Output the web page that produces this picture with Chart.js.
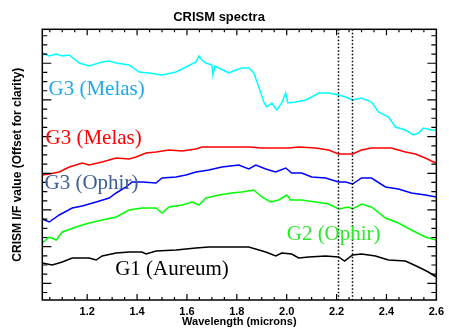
<!DOCTYPE html>
<html>
<head>
<meta charset="utf-8">
<script src="https://cdn.jsdelivr.net/npm/chart.js@4/dist/chart.umd.min.js"></script>
<style>
  html, body { margin: 0; padding: 0; background: #fff; }
</style>
</head>
<body>
<canvas id="myChart" width="449" height="331"></canvas>
<script>
'use strict';
// wavelength (microns) and offset I/F values
const cyanWave = [1.02, 1.048, 1.076, 1.1, 1.128, 1.168, 1.208, 1.26, 1.288, 1.316, 1.368, 1.408, 1.448, 1.5, 1.556, 1.596, 1.636, 1.648, 1.66, 1.676, 1.7, 1.704, 1.712, 1.728, 1.768, 1.796, 1.82, 1.848, 1.868, 1.888, 1.908, 1.92, 1.94, 1.96, 1.98, 1.996, 2.004, 2.036, 2.076, 2.1, 2.128, 2.168, 2.208, 2.236, 2.264, 2.3, 2.34, 2.368, 2.408, 2.436, 2.476, 2.508, 2.528, 2.548, 2.58, 2.6];
const cyanVals = [2.47, 2.44, 2.46, 2.44, 2.45, 2.37, 2.34, 2.38, 2.39, 2.37, 2.35, 2.28, 2.27, 2.25, 2.28, 2.33, 2.38, 2.44, 2.40, 2.37, 2.35, 2.25, 2.34, 2.32, 2.27, 2.30, 2.32, 2.32, 2.27, 2.13, 1.98, 1.93, 1.97, 1.90, 1.97, 2.07, 1.97, 1.98, 2.00, 2.03, 2.07, 2.07, 2.05, 2.03, 2.00, 2.02, 1.98, 1.88, 1.83, 1.73, 1.70, 1.65, 1.67, 1.72, 1.70, 1.70];

const redWave = [1.02, 1.048, 1.088, 1.128, 1.18, 1.208, 1.26, 1.316, 1.368, 1.396, 1.436, 1.476, 1.528, 1.58, 1.636, 1.66, 1.716, 1.768, 1.848, 1.9, 1.968, 2.008, 2.048, 2.116, 2.168, 2.208, 2.264, 2.3, 2.34, 2.42, 2.476, 2.516, 2.556, 2.58, 2.6];
const redVals = [1.25, 1.26, 1.28, 1.33, 1.37, 1.35, 1.38, 1.42, 1.41, 1.43, 1.47, 1.48, 1.50, 1.49, 1.51, 1.53, 1.53, 1.53, 1.53, 1.52, 1.52, 1.52, 1.53, 1.52, 1.50, 1.46, 1.46, 1.50, 1.52, 1.52, 1.48, 1.46, 1.42, 1.39, 1.37];

const blueWave = [1.02, 1.048, 1.088, 1.14, 1.18, 1.236, 1.288, 1.316, 1.356, 1.38, 1.42, 1.476, 1.5, 1.556, 1.596, 1.636, 1.688, 1.74, 1.808, 1.848, 1.876, 1.916, 1.956, 1.996, 2.02, 2.06, 2.1, 2.156, 2.208, 2.236, 2.264, 2.3, 2.34, 2.396, 2.448, 2.5, 2.556, 2.6];
const blueVals = [0.81, 0.78, 0.85, 0.92, 0.94, 0.98, 1.02, 1.07, 1.13, 1.18, 1.18, 1.17, 1.22, 1.23, 1.25, 1.28, 1.30, 1.33, 1.35, 1.31, 1.35, 1.31, 1.28, 1.32, 1.27, 1.27, 1.23, 1.22, 1.18, 1.18, 1.16, 1.22, 1.22, 1.13, 1.11, 1.07, 1.05, 1.03];

const greenWave = [1.02, 1.048, 1.076, 1.1, 1.156, 1.208, 1.26, 1.316, 1.368, 1.42, 1.476, 1.5, 1.528, 1.58, 1.62, 1.648, 1.676, 1.728, 1.78, 1.82, 1.868, 1.9, 1.936, 1.968, 2.0, 2.016, 2.06, 2.116, 2.168, 2.208, 2.248, 2.264, 2.3, 2.34, 2.396, 2.448, 2.5, 2.556, 2.6];
const greenVals = [0.57, 0.63, 0.60, 0.68, 0.73, 0.77, 0.80, 0.83, 0.90, 0.92, 0.92, 0.87, 0.93, 0.95, 0.98, 0.95, 1.02, 1.05, 1.07, 1.08, 1.10, 1.03, 0.98, 1.00, 1.05, 1.00, 1.00, 0.98, 0.96, 0.91, 0.93, 0.91, 0.96, 0.93, 0.82, 0.77, 0.70, 0.63, 0.60];

const blackWave = [1.02, 1.06, 1.1, 1.14, 1.208, 1.236, 1.26, 1.316, 1.368, 1.42, 1.436, 1.476, 1.556, 1.636, 1.688, 1.768, 1.848, 1.916, 1.956, 1.98, 2.02, 2.048, 2.088, 2.156, 2.208, 2.232, 2.264, 2.3, 2.356, 2.408, 2.476, 2.528, 2.568, 2.6];
const blackVals = [0.37, 0.35, 0.38, 0.42, 0.42, 0.40, 0.44, 0.47, 0.48, 0.48, 0.46, 0.49, 0.50, 0.52, 0.53, 0.53, 0.53, 0.48, 0.44, 0.47, 0.46, 0.42, 0.43, 0.44, 0.43, 0.39, 0.45, 0.46, 0.44, 0.40, 0.39, 0.33, 0.28, 0.23];

const xLabels = [1.2, 1.4, 1.6, 1.8, 2.0, 2.2, 2.4, 2.6];
const bandLines = [2.205, 2.26];

const labelTexts = ['G3 (Melas)', 'G3 (Melas)', 'G3 (Ophir)', 'G2 (Ophir)', 'G1 (Aureum)'];
const labelColors = ['#1ea8ee', '#ff0000', '#3a5f98', '#2ee82e', '#000000'];
const labelWave = [1.045, 1.033, 1.029, 2.0, 1.312];
const labelVals = [2.05, 1.56, 1.107, 0.60, 0.25];

function pts(xs, ys) {
  return xs.map((x, i) => ({ x: x, y: ys[i] }));
}

function line(label, color, xs, ys) {
  return {
    label: label,
    data: pts(xs, ys),
    borderColor: color,
    borderWidth: 1.5,
    pointRadius: 0,
    tension: 0,
    fill: false
  };
}

// frame, inward ticks, dotted band lines and labels
const framePlugin = {
  id: 'frame',
  afterDatasetsDraw(chart) {
    const ctx = chart.ctx;
    const a = chart.chartArea;
    const xs = chart.scales.x;
    const ys = chart.scales.y;
    ctx.save();

    ctx.strokeStyle = '#000';
    ctx.lineWidth = 1.5;
    ctx.setLineDash([1.5, 2]);
    bandLines.forEach(w => {
      const px = Math.round(xs.getPixelForValue(w)) + 0.5;
      ctx.beginPath();
      ctx.moveTo(px, a.top);
      ctx.lineTo(px, a.bottom);
      ctx.stroke();
    });
    ctx.setLineDash([]);

    ctx.lineWidth = 1.5;
    ctx.strokeRect(a.left, a.top, a.right - a.left, a.bottom - a.top);

    ctx.lineWidth = 1.2;
    for (let k = 1; k <= 31; k++) {
      const w = 1.0 + k * 0.05;
      if (w > 2.58) break;
      const px = xs.getPixelForValue(w);
      const major = k % 4 === 0;
      const len = major ? 6 : 3;
      ctx.beginPath();
      ctx.moveTo(px, a.bottom);
      ctx.lineTo(px, a.bottom - len);
      ctx.moveTo(px, a.top);
      ctx.lineTo(px, a.top + len);
      ctx.stroke();
    }
    for (let k = 0; k < 30; k++) {
      const v = 0.075 + k * 0.0917;
      if (v > ys.max - 0.02) break;
      const py = ys.getPixelForValue(v);
      const len = k % 4 === 1 ? 9 : 5;
      ctx.beginPath();
      ctx.moveTo(a.left, py);
      ctx.lineTo(a.left + len, py);
      ctx.moveTo(a.right, py);
      ctx.lineTo(a.right - len, py);
      ctx.stroke();
    }

    ctx.font = '21px "Liberation Serif", "Times New Roman", serif';
    ctx.textBaseline = 'alphabetic';
    ctx.textAlign = 'left';
    labelTexts.forEach((t, i) => {
      ctx.fillStyle = labelColors[i];
      ctx.fillText(t, xs.getPixelForValue(labelWave[i]), ys.getPixelForValue(labelVals[i]));
    });
    ctx.restore();
  }
};

const ctx = document.getElementById('myChart').getContext('2d');
const chart = new Chart(ctx, {
  type: 'line',
  data: {
    datasets: [
      line('G3 (Melas) top', '#00ffff', cyanWave, cyanVals),
      line('G3 (Melas)', '#ff0000', redWave, redVals),
      line('G3 (Ophir)', '#0000ff', blueWave, blueVals),
      line('G2 (Ophir)', '#00ff00', greenWave, greenVals),
      line('G1 (Aureum)', '#000000', blackWave, blackVals)
    ]
  },
  options: {
    responsive: false,
    animation: false,
    devicePixelRatio: 1,
    layout: { padding: { left: 0, right: 11, top: 0, bottom: 0 } },
    plugins: {
      legend: { display: false },
      tooltip: { enabled: false },
      title: {
        display: true,
        text: 'CRISM spectra',
        color: '#000',
        font: { family: '"Liberation Sans", Arial, sans-serif', size: 13, weight: 'bold' },
        padding: { top: 10, bottom: 3.7 }
      }
    },
    scales: {
      x: {
        type: 'linear',
        min: 1.02,
        max: 2.6,
        grid: { display: false, drawTicks: false },
        border: { display: false },
        afterBuildTicks: s => { s.ticks = xLabels.map(v => ({ value: v })); },
        afterFit: s => { s.height = 31; },
        ticks: {
          autoSkip: false,
          maxRotation: 0,
          padding: 5,
          color: '#000',
          font: { family: '"Liberation Sans", Arial, sans-serif', size: 11, weight: 'bold' },
          callback: v => Number(v).toFixed(1)
        },
        title: {
          display: true,
          text: 'Wavelength (microns)',
          color: '#000',
          font: { family: '"Liberation Sans", Arial, sans-serif', size: 11, weight: 'bold' },
          padding: { top: 0, bottom: 2.4 }
        }
      },
      y: {
        min: 0,
        max: 2.707,
        grid: { display: false, drawTicks: false },
        border: { display: false },
        ticks: { display: false },
        afterFit: s => { s.width = 42.3; },
        title: {
          display: true,
          text: 'CRISM I/F value (Offset for clarity)',
          color: '#000',
          font: { family: '"Liberation Sans", Arial, sans-serif', size: 12, weight: 'bold' },
          padding: { top: 10, bottom: 0 }
        }
      }
    }
  },
  plugins: [framePlugin]
});
</script>
</body>
</html>
